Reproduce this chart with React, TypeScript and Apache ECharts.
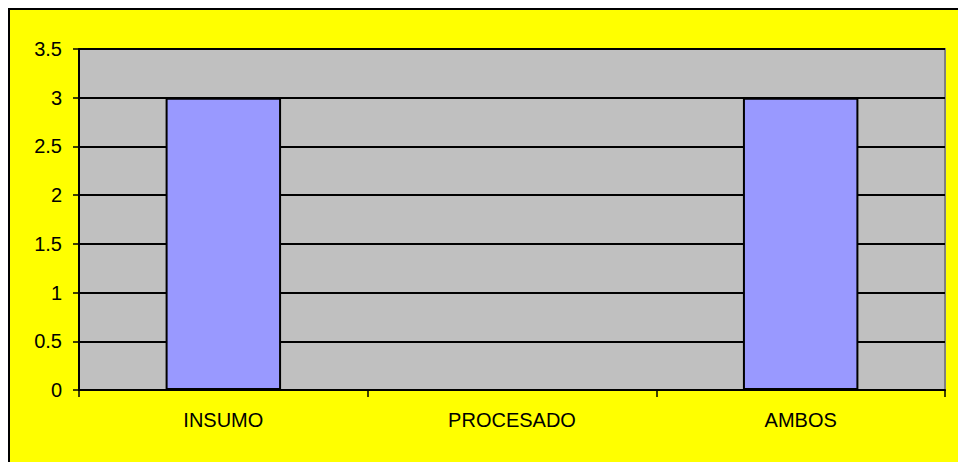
import React, { useEffect, useRef } from "react";
import * as echarts from "echarts";

const categories = ["INSUMO", "PROCESADO", "AMBOS"];
const values = [3, 0, 3];
const yTicks = { min: 0, max: 3.5, interval: 0.5 };

export default function App() {
  const ref = useRef<HTMLDivElement>(null);
  useEffect(() => {
    document.documentElement.style.overflow = "hidden";
    document.body.style.overflow = "hidden";
    if (!ref.current) return;
    const chart = echarts.init(ref.current, undefined, { renderer: "svg" });
    chart.setOption({
      animation: false,
      backgroundColor: "#FFFF00",
      textStyle: { fontFamily: "Liberation Sans, Arial, sans-serif" },
      grid: {
        left: 69,
        top: 39,
        width: 866,
        height: 341,
        show: true,
        backgroundColor: "#C0C0C0",
        borderColor: "#808080",
        borderWidth: 2,
      },
      xAxis: {
        type: "category",
        data: categories,
        boundaryGap: true,
        axisLine: { lineStyle: { color: "#000", width: 2 } },
        axisTick: { show: true, length: 7, lineStyle: { color: "#000", width: 1.5 } },
        axisLabel: { color: "#000", fontSize: 20, margin: 20 },
        splitLine: { show: false },
      },
      yAxis: {
        type: "value",
        min: yTicks.min,
        max: yTicks.max,
        interval: yTicks.interval,
        axisLine: { show: true, lineStyle: { color: "#000", width: 2 } },
        axisTick: { show: true, length: 6, lineStyle: { color: "#000", width: 1.5 } },
        axisLabel: {
          color: "#000",
          fontSize: 20,
          margin: 17,
          formatter: (v: number) => String(v),
        },
        splitLine: { show: true, lineStyle: { color: "#000", width: 2 } },
      },
      series: [
        {
          type: "bar",
          data: values,
          barWidth: "40%",
          itemStyle: { color: "#9999FF", borderColor: "#000", borderWidth: 2 },
        },
      ],
    });
    return () => chart.dispose();
  }, []);
  return (
    <div
      style={{
        position: "absolute",
        left: 8,
        top: 8,
        width: 960,
        height: 470,
        borderLeft: "2px solid #000",
        borderTop: "2px solid #000",
        background: "#FFFF00",
        overflow: "hidden",
      }}
    >
      <div ref={ref} style={{ width: 960, height: 470 }} />
    </div>
  );
}
